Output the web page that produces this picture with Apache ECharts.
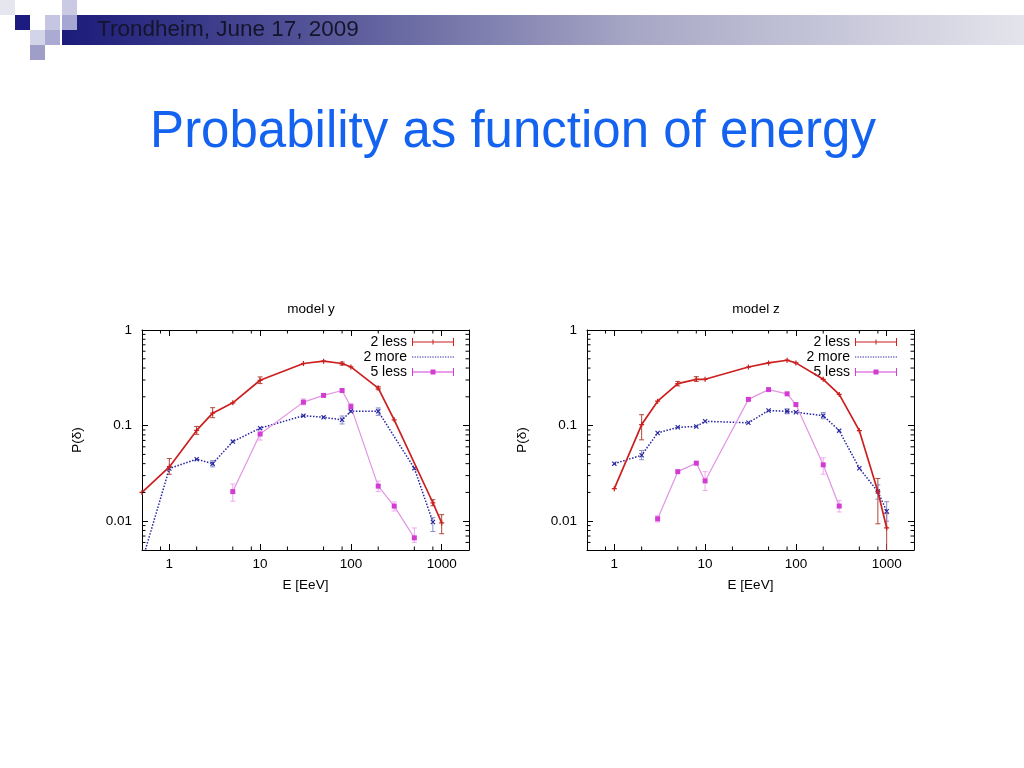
<!DOCTYPE html>
<html><head><meta charset="utf-8">
<script src="https://cdn.jsdelivr.net/npm/echarts@6/dist/echarts.min.js"></script>
<style>html,body{margin:0;padding:0;background:#fff}#c{width:1024px;height:768px}</style>
</head><body><div id="c"></div>
<script>
const FONT = '"Liberation Sans", Arial, Helvetica, sans-serif';

// ---------- model y ----------
const yRedE  = [0.5, 1, 2, 3, 5, 10, 30, 50, 80, 100, 200, 300, 800, 1000];
const yRedP  = [0.020, 0.037, 0.089, 0.135, 0.173, 0.298, 0.446, 0.472, 0.446, 0.411, 0.247, 0.115, 0.0156, 0.0096];
const yRedLo = [null, 0.031, 0.081, 0.121, null, 0.275, null, null, 0.43, null, 0.237, null, 0.0145, 0.0074];
const yRedHi = [null, 0.0452, 0.098, 0.154, null, 0.323, null, null, 0.462, null, 0.257, null, 0.0168, 0.0117];

const yBlueE  = [0.5, 1, 2, 3, 5, 10, 30, 50, 80, 100, 200, 500, 800];
const yBlueP  = [0.0038, 0.0356, 0.0446, 0.040, 0.068, 0.094, 0.127, 0.122, 0.115, 0.141, 0.141, 0.0358, 0.0098];
const yBlueLo = [null, null, null, 0.037, null, null, null, null, 0.104, null, 0.128, null, 0.0078];
const yBlueHi = [null, null, null, 0.043, null, null, null, null, 0.126, null, 0.153, null, 0.0109];

const yMagE  = [5, 10, 30, 50, 80, 100, 200, 300, 500];
const yMagP  = [0.0204, 0.0817, 0.176, 0.207, 0.233, 0.158, 0.0233, 0.0144, 0.0067];
const yMagLo = [0.0162, 0.0706, 0.165, null, null, 0.145, 0.0204, 0.0128, 0.0060];
const yMagHi = [0.0245, 0.0924, 0.19, null, null, 0.17, 0.0263, 0.0159, 0.0085];

// ---------- model z ----------
const zRedE  = [1, 2, 3, 5, 8, 10, 30, 50, 80, 100, 200, 300, 500, 800, 1000];
const zRedP  = [0.0219, 0.1025, 0.18, 0.275, 0.305, 0.305, 0.41, 0.453, 0.483, 0.453, 0.305, 0.212, 0.0886, 0.0204, 0.0085];
const zRedLo = [null, 0.071, null, 0.26, 0.29, null, null, null, null, null, null, null, null, 0.0094, 0.004];
const zRedHi = [null, 0.13, null, 0.29, 0.325, null, null, null, null, null, null, null, null, 0.028, 0.012];

const zBlueE  = [1, 2, 3, 5, 8, 10, 30, 50, 80, 100, 200, 300, 500, 800, 1000];
const zBlueP  = [0.040, 0.049, 0.0838, 0.096, 0.098, 0.111, 0.107, 0.144, 0.141, 0.138, 0.127, 0.0886, 0.0358, 0.0204, 0.0127];
const zBlueLo = [null, 0.044, null, null, null, null, null, null, 0.133, null, 0.118, null, null, 0.017, 0.010];
const zBlueHi = [null, 0.055, null, null, null, null, null, null, 0.150, null, 0.137, null, null, 0.024, 0.016];

const zMagE  = [3, 5, 8, 10, 30, 50, 80, 100, 200, 300];
const zMagP  = [0.0106, 0.033, 0.0405, 0.0264, 0.188, 0.238, 0.215, 0.166, 0.0389, 0.0144];
const zMagLo = [0.0098, null, null, 0.021, null, null, null, null, 0.031, 0.0125];
const zMagHi = [0.0114, null, null, 0.033, null, null, null, null, 0.046, 0.0165];

// ---------- axes / labels ----------
const seriesNames = ['2 less', '2 more', '5 less'];
const panelTitles = ['model y', 'model z'];
const X_MIN = 0.5, X_MAX = 2000, Y_MIN = 0.005, Y_MAX = 1;
const xName = 'E [EeV]', yName = 'P(\u03b4)';
const xMinorMult = [2, 5, 8];
const yMinorMult = [2, 3, 4, 5, 6, 7, 8, 9];

const RED = '#cc1f1f', RED_ERR = '#b0483c';
const BLUE = '#2626a0', BLUE_ERR = '#8c8cc8';
const MAG_LINE = '#e394e3', MAG = '#d23cd2', MAG_ERR = '#f0a8f0';

const PLUS = 'path://M3,0h2v8h-2zM0,3h8v2h-8z';
const CROSS = 'path://M0,1.3L1.3,0L8,6.7L6.7,8ZM6.7,0L8,1.3L1.3,8L0,6.7Z';
const ICON_RED = 'path://M0,0h1v8h-1zM41,0h1v8h-1zM0,3.4h42v1.2h-42zM20.5,1.5h1v5h-1zM18.5,3.5h5v1h-5z';
let dots = ''; for (let i = 0; i < 42; i += 2.6) dots += 'M' + i.toFixed(1) + ',3.4h1.3v1.2h-1.3z';
const ICON_BLUE = 'path://M0,0h0.01v8h-0.01z' + dots;
const ICON_MAG = 'path://M0,0h1v8h-1zM41,0h1v8h-1zM0,3.5h42v1h-42zM18.5,1.5h5v5h-5z';

function fmt(v) {
  const l = Math.log10(v);
  if (Math.abs(l - Math.round(l)) > 1e-6) return '';
  return String(+Number(v).toPrecision(3));
}

function xAx(gi, pos, labels) {
  return {
    type: 'log', logBase: 10, gridIndex: gi, position: pos, min: X_MIN, max: X_MAX,
    axisLine: { show: true, onZero: false, lineStyle: { color: '#000', width: 1 } },
    axisTick: { show: true, inside: true, length: 6, lineStyle: { color: '#000', width: 1 } },
    axisLabel: { show: labels, formatter: fmt, margin: 7, fontSize: 13.5, color: '#000', fontFamily: FONT, showMinLabel: false, showMaxLabel: false },
    splitLine: { show: false },
    name: labels ? xName : '', nameLocation: 'middle', nameGap: 28,
    nameTextStyle: { fontSize: 13.5, color: '#000', fontFamily: FONT }
  };
}
function yAx(gi, pos, labels) {
  return {
    type: 'log', logBase: 10, gridIndex: gi, position: pos, min: Y_MIN, max: Y_MAX,
    axisLine: { show: true, onZero: false, lineStyle: { color: '#000', width: 1 } },
    axisTick: { show: true, inside: true, length: 6, lineStyle: { color: '#000', width: 1 } },
    axisLabel: { show: labels, formatter: fmt, margin: 10, fontSize: 13.5, color: '#000', fontFamily: FONT, showMinLabel: false },
    splitLine: { show: false },
    name: labels ? yName : '', nameLocation: 'middle', nameGap: 58,
    nameTextStyle: { fontSize: 13.5, color: '#000', fontFamily: FONT }
  };
}

function pairs(E, P) { return E.map((e, i) => [e, P[i]]); }
function errData(E, lo, hi) {
  const out = [];
  E.forEach((e, i) => { if (lo[i] != null && hi[i] != null) out.push([e, lo[i], hi[i]]); });
  return out;
}
function errRender(params, api) {
  const x = api.value(0), lo = api.value(1), hi = api.value(2);
  const a = api.coord([x, lo]), b = api.coord([x, hi]);
  const c = 2.5;
  const st = { stroke: api.visual('color'), lineWidth: 1 };
  return { type: 'group', children: [
    { type: 'line', shape: { x1: a[0], y1: a[1], x2: b[0], y2: b[1] }, style: st },
    { type: 'line', shape: { x1: a[0] - c, y1: a[1], x2: a[0] + c, y2: a[1] }, style: st },
    { type: 'line', shape: { x1: b[0] - c, y1: b[1], x2: b[0] + c, y2: b[1] }, style: st }
  ]};
}
function errSeries(name, E, lo, hi, idx, color) {
  return { type: 'custom', name: name, xAxisIndex: idx, yAxisIndex: idx, clip: true, silent: true,
    itemStyle: { color: color }, encode: { x: 0, y: [1, 2] },
    renderItem: errRender, data: errData(E, lo, hi), z: 2 };
}
function redSeries(E, P, idx) {
  return { type: 'line', name: seriesNames[0], xAxisIndex: idx, yAxisIndex: idx, data: pairs(E, P),
    symbol: PLUS, symbolSize: 5, clip: true, z: 4,
    itemStyle: { color: RED, borderWidth: 0 }, lineStyle: { color: RED, width: 1.7 } };
}
function blueSeries(E, P, idx) {
  return { type: 'line', name: seriesNames[1], xAxisIndex: idx, yAxisIndex: idx, data: pairs(E, P),
    symbol: CROSS, symbolSize: 5, clip: true, z: 3,
    itemStyle: { color: BLUE, borderWidth: 0 }, lineStyle: { color: BLUE, width: 1.5, type: [1.5, 1.6] } };
}
function magSeries(E, P, idx) {
  return { type: 'line', name: seriesNames[2], xAxisIndex: idx, yAxisIndex: idx, data: pairs(E, P),
    symbol: 'rect', symbolSize: 5, clip: true, z: 3,
    itemStyle: { color: MAG, borderWidth: 0 }, lineStyle: { color: MAG_LINE, width: 1.2 } };
}

// minor ticks, drawn through the axis scales
const xMinor = [], yMinor = [];
for (let k = -4; k <= 4; k++) {
  xMinorMult.forEach(m => { const v = +(m * Math.pow(10, k)).toPrecision(3); if (v > X_MIN && v < X_MAX) xMinor.push(v); });
  yMinorMult.forEach(m => { const v = +(m * Math.pow(10, k)).toPrecision(3); if (v > Y_MIN && v < Y_MAX) yMinor.push(v); });
}
function minorSeries(idx) {
  const L = 3.5;
  return [
    { type: 'custom', name: 'xminor' + idx, xAxisIndex: idx, yAxisIndex: idx, clip: false, silent: true, z: 5,
      data: xMinor.map(v => [v, Y_MIN]),
      renderItem: function (p, api) {
        const v = api.value(0);
        const a = api.coord([v, Y_MIN]), b = api.coord([v, Y_MAX]);
        const st = { stroke: '#000', lineWidth: 1 };
        return { type: 'group', children: [
          { type: 'line', shape: { x1: a[0], y1: a[1], x2: a[0], y2: a[1] - L }, style: st },
          { type: 'line', shape: { x1: b[0], y1: b[1], x2: b[0], y2: b[1] + L }, style: st }
        ]};
      } },
    { type: 'custom', name: 'yminor' + idx, xAxisIndex: idx, yAxisIndex: idx, clip: false, silent: true, z: 5,
      data: yMinor.map(v => [X_MIN, v]),
      renderItem: function (p, api) {
        const v = api.value(1);
        const a = api.coord([X_MIN, v]), b = api.coord([X_MAX, v]);
        const st = { stroke: '#000', lineWidth: 1 };
        return { type: 'group', children: [
          { type: 'line', shape: { x1: a[0], y1: a[1], x2: a[0] + L, y2: a[1] }, style: st },
          { type: 'line', shape: { x1: b[0], y1: b[1], x2: b[0] - L, y2: b[1] }, style: st }
        ]};
      } }
  ];
}

function legendFor(right) {
  return {
    orient: 'vertical', align: 'right', right: right, top: 335, itemWidth: 42, itemHeight: 8,
    itemGap: 1, padding: 0, selectedMode: false,
    textStyle: { fontSize: 14, color: '#000', fontFamily: FONT },
    itemStyle: { borderWidth: 0 },
    data: [
      { name: seriesNames[0], icon: ICON_RED, itemStyle: { color: RED } },
      { name: seriesNames[1], icon: ICON_BLUE, itemStyle: { color: BLUE } },
      { name: seriesNames[2], icon: ICON_MAG, itemStyle: { color: MAG } }
    ]
  };
}

// header decoration squares
const squares = [
  [0, 0, '#e6e6f0'], [15, 15, '#1c1c80'], [30, 30, '#d4d4e8'], [45, 15, '#c6c6e2'],
  [62, 0, '#cacae4'], [62, 15, '#a6a6d2'], [45, 30, '#aaaad2'], [30, 45, '#9e9ec8']
];
const graphics = [
  { type: 'rect', shape: { x: 62, y: 15, width: 962, height: 30 }, z: 0,
    style: { fill: new echarts.graphic.LinearGradient(0, 0, 1, 0, [
      { offset: 0, color: '#1b1b7a' }, { offset: 0.3, color: '#5c5c9c' },
      { offset: 0.6, color: '#a8a8c6' }, { offset: 1, color: '#e4e4ec' }]) } }
];
squares.forEach(s => graphics.push({ type: 'rect', z: 1, shape: { x: s[0], y: s[1], width: 15, height: 15 }, style: { fill: s[2] } }));
graphics.push({ type: 'text', x: 97, y: 30, z: 2,
  style: { text: 'Trondheim, June 17, 2009', fontSize: 22.5, fontFamily: FONT, fill: '#14142a', verticalAlign: 'middle' } });

const chart = echarts.init(document.getElementById('c'), null, { renderer: 'canvas' });
chart.setOption({
  backgroundColor: '#ffffff',
  animation: false,
  graphic: graphics,
  title: [
    { text: 'Probability as function of energy', left: 508, textAlign: 'center', top: 102,
      textStyle: { fontSize: 51, fontWeight: 'normal', color: '#1463f0', fontFamily: FONT } },
    { text: panelTitles[0], left: 306, textAlign: 'center', top: 297,
      textStyle: { fontSize: 13.5, fontWeight: 'normal', color: '#000', fontFamily: FONT } },
    { text: panelTitles[1], left: 751, textAlign: 'center', top: 297,
      textStyle: { fontSize: 13.5, fontWeight: 'normal', color: '#000', fontFamily: FONT } }
  ],
  legend: [legendFor(570), legendFor(127)],
  grid: [
    { left: 142, top: 330, width: 327, height: 220 },
    { left: 587, top: 330, width: 327, height: 220 }
  ],
  xAxis: [xAx(0, 'bottom', true), xAx(1, 'bottom', true), xAx(0, 'top', false), xAx(1, 'top', false)],
  yAxis: [yAx(0, 'left', true), yAx(1, 'left', true), yAx(0, 'right', false), yAx(1, 'right', false)],
  series: [
    redSeries(yRedE, yRedP, 0), blueSeries(yBlueE, yBlueP, 0), magSeries(yMagE, yMagP, 0),
    redSeries(zRedE, zRedP, 1), blueSeries(zBlueE, zBlueP, 1), magSeries(zMagE, zMagP, 1),
    errSeries('err-r-y', yRedE, yRedLo, yRedHi, 0, RED_ERR),
    errSeries('err-b-y', yBlueE, yBlueLo, yBlueHi, 0, BLUE_ERR),
    errSeries('err-m-y', yMagE, yMagLo, yMagHi, 0, MAG_ERR),
    errSeries('err-r-z', zRedE, zRedLo, zRedHi, 1, RED_ERR),
    errSeries('err-b-z', zBlueE, zBlueLo, zBlueHi, 1, BLUE_ERR),
    errSeries('err-m-z', zMagE, zMagLo, zMagHi, 1, MAG_ERR)
  ].concat(minorSeries(0), minorSeries(1))
});
</script>
</body></html>
